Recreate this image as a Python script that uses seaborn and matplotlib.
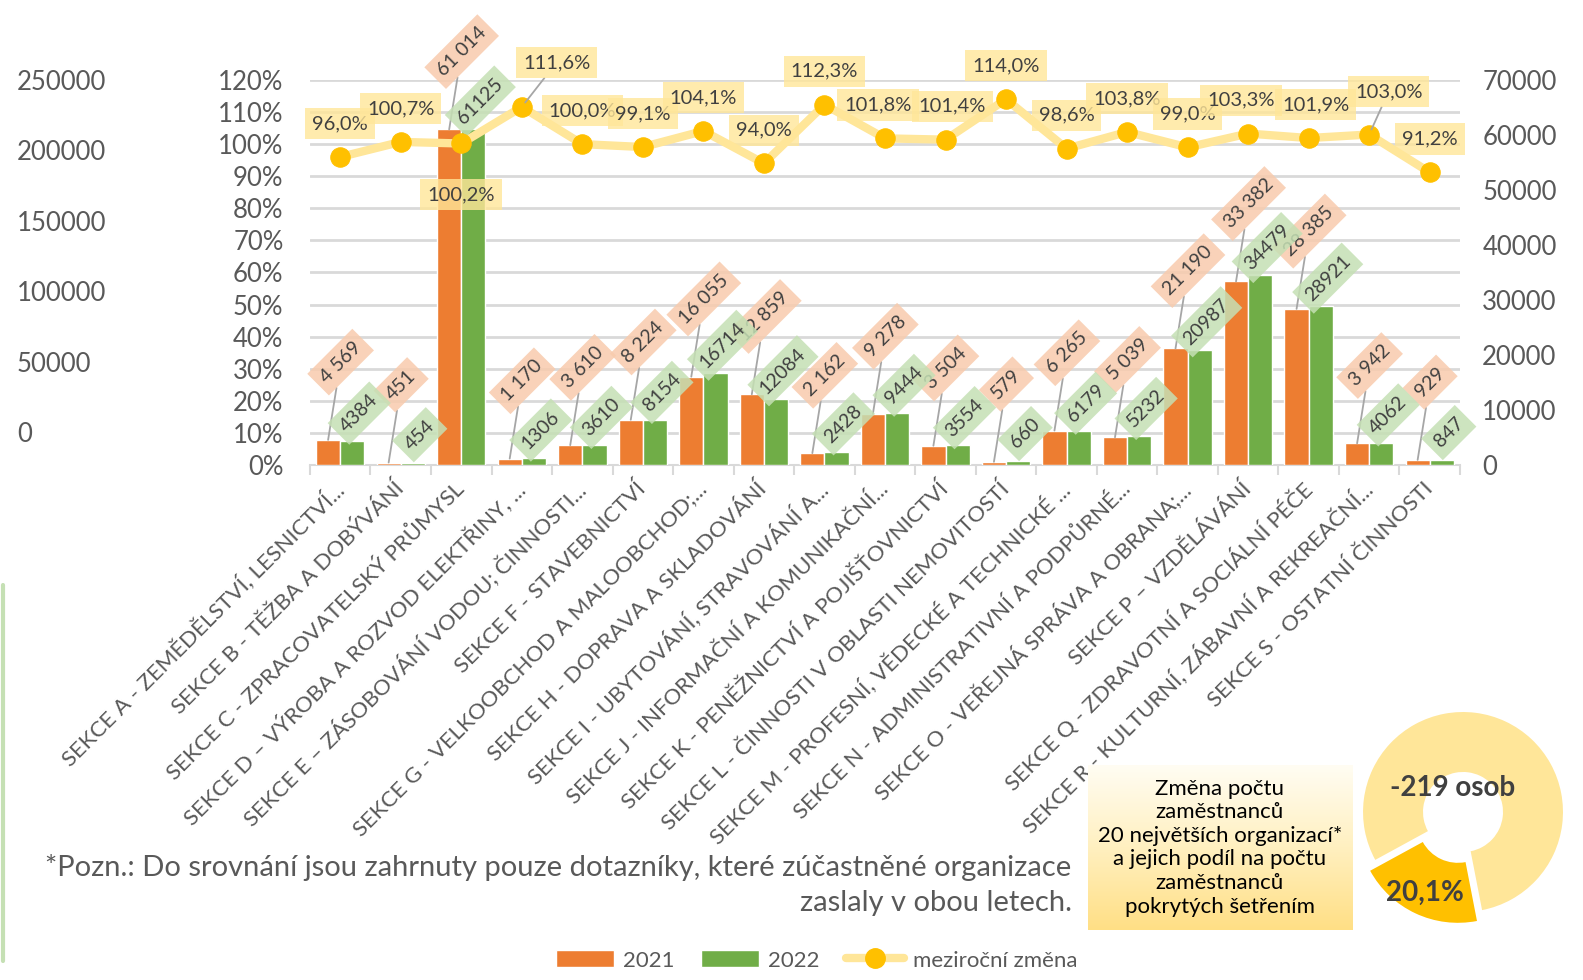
import numpy as np
import pandas as pd
import matplotlib
matplotlib.use("Agg")
import matplotlib.pyplot as plt
import seaborn as sns
from matplotlib.patches import Patch
from matplotlib.lines import Line2D
from matplotlib.colors import LinearSegmentedColormap

# data
sekce = [
    "SEKCE A - ZEMĚDĚLSTVÍ, LESNICTVÍ...",
    "SEKCE B - TĚŽBA A DOBÝVÁNÍ",
    "SEKCE C - ZPRACOVATELSKÝ PRŮMYSL",
    "SEKCE D – VÝROBA A ROZVOD ELEKTŘINY, ...",
    "SEKCE E – ZÁSOBOVÁNÍ VODOU; ČINNOSTI...",
    "SEKCE F - STAVEBNICTVÍ",
    "SEKCE G - VELKOOBCHOD A MALOOBCHOD;...",
    "SEKCE H - DOPRAVA A SKLADOVÁNÍ",
    "SEKCE I - UBYTOVÁNÍ, STRAVOVÁNÍ A...",
    "SEKCE J - INFORMAČNÍ A KOMUNIKAČNÍ...",
    "SEKCE K - PENĚŽNICTVÍ A POJIŠŤOVNICTVÍ",
    "SEKCE L - ČINNOSTI V OBLASTI NEMOVITOSTÍ",
    "SEKCE M - PROFESNÍ, VĚDECKÉ A TECHNICKÉ ...",
    "SEKCE N - ADMINISTRATIVNÍ A PODPŮRNÉ...",
    "SEKCE O - VEŘEJNÁ SPRÁVA A OBRANA;...",
    "SEKCE P – VZDĚLÁVÁNÍ",
    "SEKCE Q - ZDRAVOTNÍ A SOCIÁLNÍ PÉČE",
    "SEKCE R - KULTURNÍ, ZÁBAVNÍ A REKREAČNÍ...",
    "SEKCE S - OSTATNÍ ČINNOSTI",
]
zam_2021 = [4569, 451, 61014, 1170, 3610, 8224, 16055, 12859, 2162, 9278,
            3504, 579, 6265, 5039, 21190, 33382, 28385, 3942, 929]
zam_2022 = [4384, 454, 61125, 1306, 3610, 8154, 16714, 12084, 2428, 9444,
            3554, 660, 6179, 5232, 20987, 34479, 28921, 4062, 847]
zmena = [96.0, 100.7, 100.2, 111.6, 100.0, 99.1, 104.1, 94.0, 112.3, 101.8,
         101.4, 114.0, 98.6, 103.8, 99.0, 103.3, 101.9, 103.0, 91.2]
podil = [20.1, 79.9]
pct_ticks = list(range(0, 121, 10))
bar_ticks = list(range(0, 70001, 10000))
outer_ticks = list(range(0, 250001, 50000))

C21, C22 = "#ED7D31", "#70AD47"
LINE, DOT = "#FFE699", "#FFC000"
GRID, TXT, DARK = "#D9D9D9", "#595959", "#404040"

sns.set_theme(style="white")
plt.rcParams["font.family"] = ["Lato", "DejaVu Sans"]

df = pd.DataFrame({
    "sekce": sekce * 2,
    "pocet": zam_2021 + zam_2022,
    "rok": ["2021"] * len(sekce) + ["2022"] * len(sekce),
})

fig = plt.figure(figsize=(15.83, 9.8), dpi=100)
ax = fig.add_axes([0.1958, 0.5255, 0.7265, 0.3929])

# bars (right axis)
axb = ax.twinx()
sns.barplot(data=df, x="sekce", y="pocet", hue="rok", palette=[C21, C22],
            ax=axb, width=0.8, saturation=1, legend=False)
axb.set_ylim(0, 70000)
axb.set_yticks(bar_ticks)
axb.set_yticklabels([str(t) for t in bar_ticks])
axb.set_xlabel("")
axb.set_ylabel("")
axb.tick_params(axis="y", length=0, pad=16, labelsize=18.5, labelcolor=TXT)

# line (percent)
axl = ax.twinx()
x = np.arange(len(sekce))
sns.lineplot(x=x, y=zmena, ax=axl, color=LINE, lw=6, marker="o", markersize=14,
             markerfacecolor=DOT, markeredgecolor=DOT)
axl.set_ylim(0, 120)
axl.set_yticks([])
axl.set_ylabel("")

# host axis: percent ticks + grid
ax.set_ylim(0, 120)
ax.set_yticks(pct_ticks)
ax.set_yticklabels([f"{t}%" for t in pct_ticks])
ax.tick_params(axis="y", length=0, pad=19, labelsize=18.5, labelcolor=TXT)
ax.grid(True, axis="y", color=GRID, lw=2)
ax.set_xlim(-0.5, len(sekce) - 0.5)
axb.set_xlim(-0.5, len(sekce) - 0.5)
ax.set_xticks(x)
ax.set_xticklabels(sekce, rotation=45, ha="right", va="center",
                   rotation_mode="anchor", fontsize=16, color=TXT)
ax.set_xticks(np.arange(-0.5, len(sekce), 1), minor=True)
ax.tick_params(axis="x", which="major", length=0, pad=15)
ax.tick_params(axis="x", which="minor", bottom=True, length=7, width=1.5, color=GRID)

# outer left axis 0-250000
axo = ax.twinx()
axo.yaxis.tick_left()
axo.spines["left"].set_position(("axes", -0.2548))
axo.set_ylim(-23438, 250000)
axo.set_yticks(outer_ticks)
axo.set_yticklabels([str(t) for t in outer_ticks], ha="left")
axo.tick_params(axis="y", length=0, pad=0, labelsize=18.5, labelcolor=TXT)

for a in (ax, axb, axl, axo):
    for s in a.spines.values():
        s.set_visible(False)
ax.spines["bottom"].set_visible(True)
ax.spines["bottom"].set_color(GRID)
ax.spines["bottom"].set_linewidth(1.5)

# bar labels (green drawn on top of orange, as in the original)
for i in range(len(sekce)):
    axb.annotate(f"{zam_2021[i]:,}".replace(",", " "), xy=(i - 0.2, zam_2021[i]),
                 xytext=(9, 56), textcoords="offset points", rotation=45,
                 ha="center", va="center", fontsize=14, color=DARK, zorder=5,
                 bbox=dict(boxstyle="square,pad=0.35", fc="#F8CBAD", ec="none", alpha=0.85),
                 arrowprops=dict(arrowstyle="-", color="#A6A6A6", lw=1.3,
                                 shrinkA=0, shrinkB=0))
    axb.annotate(str(zam_2022[i]), xy=(i + 0.2, zam_2022[i]),
                 xytext=(5, 20), textcoords="offset points", rotation=45,
                 ha="center", va="center", fontsize=14, color=DARK, zorder=6,
                 bbox=dict(boxstyle="square,pad=0.35", fc="#C5E0B4", ec="none", alpha=0.85))

# percent labels
pct_offsets = {2: (0, -37), 3: (25, 32), 9: (-5, 24), 10: (5, 24),
               15: (-5, 24), 16: (5, 24), 17: (14, 31)}
for i, v in enumerate(zmena):
    off = pct_offsets.get(i, (0, 24))
    arrow = dict(arrowstyle="-", color="#A6A6A6", lw=1.3, shrinkA=0, shrinkB=4) if i in (3, 17) else None
    axl.annotate(f"{v:.1f}".replace(".", ",") + "%", xy=(i, v), xytext=off,
                 textcoords="offset points", ha="center", va="center",
                 fontsize=14.5, color=DARK, arrowprops=arrow,
                 bbox=dict(boxstyle="square,pad=0.35", fc=LINE, ec="none", alpha=0.8))

# legend
handles = [Patch(fc=C21), Patch(fc=C22),
           Line2D([], [], color=LINE, lw=6, marker="o", ms=14, mfc=DOT, mec=DOT)]
fig.legend(handles, ["2021", "2022", "meziroční změna"], loc="center",
           bbox_to_anchor=(0.516, 0.02), ncol=3, frameon=False, fontsize=16,
           handlelength=2.6, handleheight=0.8, handletextpad=0.4,
           columnspacing=1.2, labelcolor=TXT)

# footnote
fig.text(0.677, 0.097,
         "*Pozn.: Do srovnání jsou zahrnuty pouze dotazníky, které zúčastněné organizace\n"
         "zaslaly v obou letech.", ha="right", va="center", fontsize=21,
         color=TXT, linespacing=1.4, multialignment="right")

# gradient box
axbox = fig.add_axes([0.687, 0.051, 0.167, 0.168])
cmap = LinearSegmentedColormap.from_list("g", ["#FFDF85", "#FFF0C0", "#FFFDF3"])
axbox.imshow(np.linspace(0, 1, 256).reshape(-1, 1), cmap=cmap, aspect="auto",
             extent=[0, 1, 0, 1], origin="lower")
axbox.axis("off")
axbox.text(0.5, 0.5, "Změna počtu\nzaměstnanců\n20 největších organizací*\n"
           "a jejich podíl na počtu\nzaměstnanců\npokrytých šetřením",
           ha="center", va="center", fontsize=16, color="black", linespacing=1.22)

# donut
axd = fig.add_axes([0.8421, 0.0388, 0.1642, 0.2653])
axd.pie(podil, colors=[DOT, LINE], startangle=281, counterclock=False,
        explode=[0.12, 0], radius=1, wedgeprops=dict(width=0.6, edgecolor="none"))
axd.set_xlim(-1.3, 1.3)
axd.set_ylim(-1.3, 1.3)
axd.set_aspect("equal")
axd.text(-0.1, 0.24, "-219 osob", ha="center", va="center", fontsize=20,
         fontweight="bold", color=DARK)
axd.text(-0.38, -0.81, "20,1%", ha="center", va="center", fontsize=20,
         fontweight="bold", color=DARK)

fig.add_artist(Line2D([0.002, 0.002], [0.019, 0.403], transform=fig.transFigure,
                      color="#C5E0B4", lw=3))

fig.savefig("out.png", dpi=100)
